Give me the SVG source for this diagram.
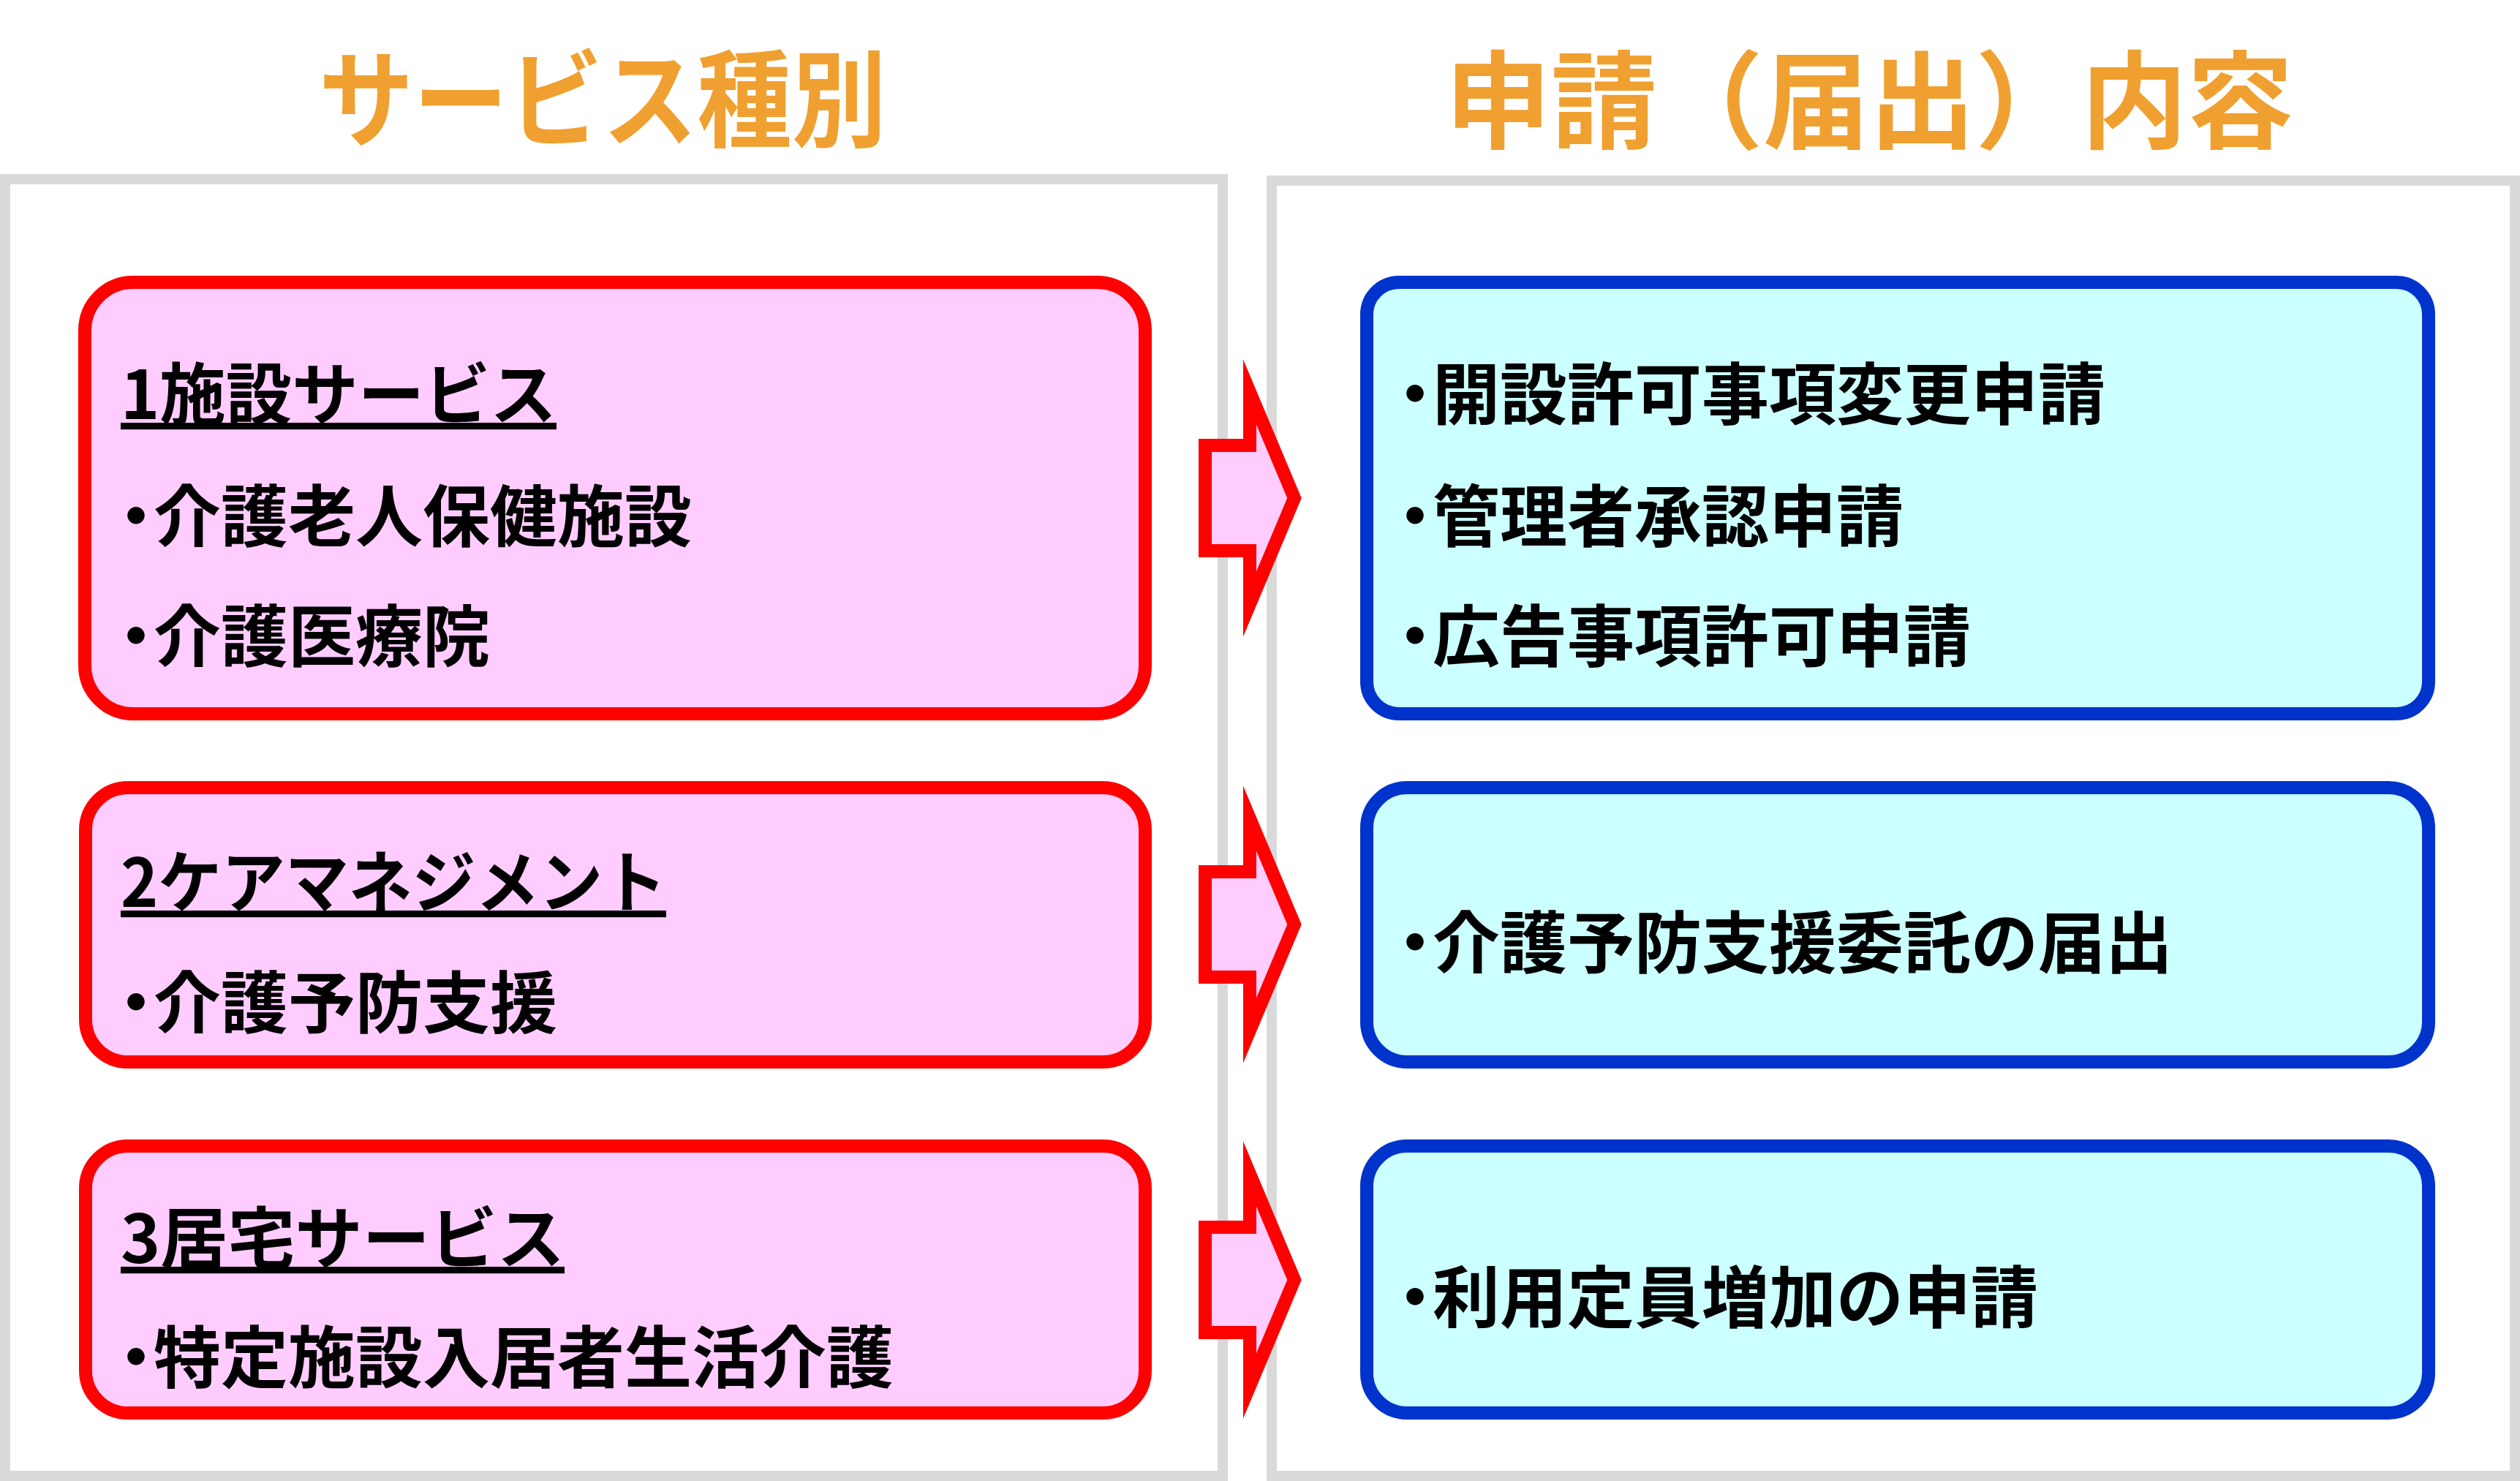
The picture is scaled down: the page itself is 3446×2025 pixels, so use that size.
<svg xmlns="http://www.w3.org/2000/svg" width="3446" height="2025" viewBox="0 0 3446 2025">
<style>
.panel{fill:#FFFFFF;stroke:#D9D9D9;stroke-width:14}
.title{font-family:"Noto Sans CJK JP","Noto Sans CJK SC",sans-serif;font-weight:700;font-size:145px;fill:#F0A030}
.src rect{fill:#FFCCFF;stroke:#FF0000;stroke-width:18}
.dst rect{fill:#CCFFFF;stroke:#0033CC;stroke-width:18}
.t{font-family:"Noto Sans CJK JP","Noto Sans CJK SC",sans-serif;font-weight:700;font-size:92px;fill:#000000}
.h{text-decoration:underline}
.arrow{fill:#FFCCFF;stroke:#FF0000;stroke-width:18;stroke-miterlimit:10;stroke-linejoin:miter}
</style>
<defs>
<polygon id="arr" points="1648,-72 1709,-72 1709,-145 1770,0 1709,145 1709,72 1648,72"/>
</defs>
<rect class="panel" x="7" y="245" width="1665" height="1773"/>
<rect class="panel" x="1739" y="247" width="1700" height="1771"/>
<text class="title" x="436" y="190" textLength="776" lengthAdjust="spacingAndGlyphs">サービス種別</text>
<text class="title" x="1976" y="192">申請（届出）内容</text>

<g id="svc-1" class="src">
<rect x="116" y="386" width="1450" height="590" rx="66" ry="66"/>
<text class="t h" x="165" y="573" textLength="596" lengthAdjust="spacingAndGlyphs">1施設サービス</text>
<text class="t" x="140" y="740" dx="0 -22">・介護老人保健施設</text>
<text class="t" x="140" y="904" dx="0 -22">・介護医療院</text>
</g>
<g id="svc-2" class="src">
<rect x="117" y="1077" width="1449" height="375" rx="58" ry="58"/>
<text class="t h" x="165" y="1240" textLength="746" lengthAdjust="spacingAndGlyphs">2ケアマネジメント</text>
<text class="t" x="140" y="1405" dx="0 -22">・介護予防支援</text>
</g>
<g id="svc-3" class="src">
<rect x="117" y="1567" width="1449" height="365" rx="58" ry="58"/>
<text class="t h" x="165" y="1727" textLength="607" lengthAdjust="spacingAndGlyphs">3居宅サービス</text>
<text class="t" x="140" y="1890" dx="0 -22">・特定施設入居者生活介護</text>
</g>

<g id="req-1" class="dst">
<rect x="1869" y="386" width="1452" height="590" rx="44" ry="44"/>
<text class="t" x="1889" y="573" dx="0 -22">・開設許可事項変更申請</text>
<text class="t" x="1889" y="740" dx="0 -22">・管理者承認申請</text>
<text class="t" x="1889" y="904" dx="0 -22">・広告事項許可申請</text>
</g>
<g id="req-2" class="dst">
<rect x="1869" y="1077" width="1452" height="375" rx="55" ry="55"/>
<text class="t" x="1889" y="1323" dx="0 -22">・介護予防支援委託の届出</text>
</g>
<g id="req-3" class="dst">
<rect x="1869" y="1567" width="1452" height="365" rx="55" ry="55"/>
<text class="t" x="1889" y="1808" dx="0 -22">・利用定員増加の申請</text>
</g>

<g id="connectors">
<use href="#arr" class="arrow" transform="translate(0,681)"/>
<use href="#arr" class="arrow" transform="translate(0,1264)"/>
<use href="#arr" class="arrow" transform="translate(0,1750)"/>
</g>
</svg>
